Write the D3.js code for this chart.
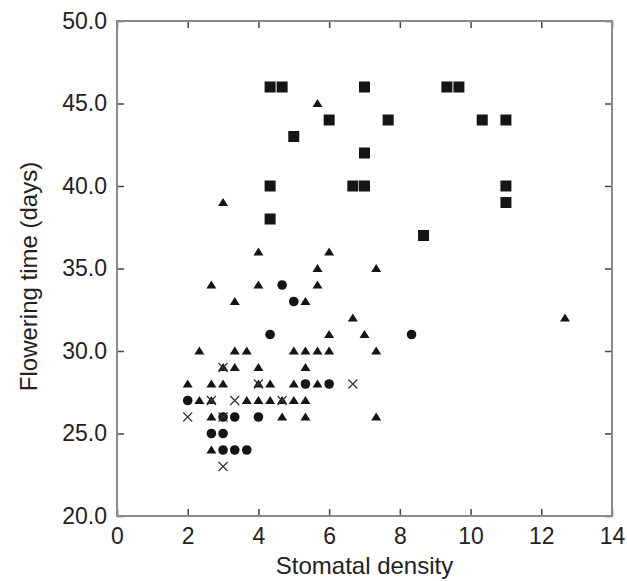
<!DOCTYPE html>
<html>
<head>
<meta charset="utf-8">
<script src="https://cdn.jsdelivr.net/npm/d3@7"></script>
<style>
  body { margin: 0; background: #fff; }
  svg { display: block; font-family: 'Liberation Sans', Arial, sans-serif; }
</style>
</head>
<body>
<svg></svg>
<script>
const HEIGHT = 581;
const WIDTH = 627;
const MARGINS = { left: 117, top: 21, right: 15, bottom: 65 };
const graphWidth = WIDTH - MARGINS.left - MARGINS.right;
const graphHeight = HEIGHT - MARGINS.top - MARGINS.bottom;

// data: [stomatal density, flowering time]
const squares = [
  [4.33, 46], [4.67, 46], [7, 46], [9.33, 46], [9.67, 46],
  [6, 44], [7.67, 44], [10.33, 44], [11, 44],
  [5, 43], [7, 42],
  [4.33, 40], [6.67, 40], [7, 40], [11, 40],
  [11, 39], [4.33, 38], [8.67, 37]
];
const triangles = [
  [5.67, 45], [3, 39], [4, 36], [6, 36], [5.67, 35], [7.33, 35],
  [2.67, 34], [4, 34], [5.67, 34], [3.33, 33], [5.33, 33],
  [6.67, 32], [12.67, 32], [6, 31], [7, 31],
  [2.33, 30], [3.33, 30], [3.67, 30], [5, 30], [5.33, 30], [5.67, 30], [6, 30], [7.33, 30],
  [3, 29], [3.33, 29], [4, 29], [5.33, 29],
  [2, 28], [2.67, 28], [3, 28], [4, 28], [4.33, 28], [5, 28], [5.67, 28],
  [2.33, 27], [2.67, 27], [3.67, 27], [4, 27], [4.33, 27], [4.67, 27], [5, 27], [5.33, 27],
  [2.67, 26], [4.67, 26], [5.33, 26], [7.33, 26],
  [2.67, 24]
];
const circles = [
  [4.67, 34], [5, 33], [4.33, 31], [8.33, 31],
  [5.33, 28], [6, 28], [2, 27],
  [3, 26], [3.33, 26], [4, 26],
  [2.67, 25], [3, 25],
  [3, 24], [3.33, 24], [3.67, 24]
];
const crosses = [
  [3, 29], [4, 28], [6.67, 28], [2.67, 27], [3.33, 27], [4.67, 27],
  [2, 26], [3, 26], [3, 23]
];
const xTicks = [0, 2, 4, 6, 8, 10, 12, 14];
const yTicks = [20, 25, 30, 35, 40, 45, 50];

const svg = d3.select('svg').attr('height', HEIGHT).attr('width', WIDTH);

const graph = svg
  .append('g')
  .attr('transform', `translate(${MARGINS.left}, ${MARGINS.top})`);

const x = d3.scaleLinear().domain([0, 14]).range([0, graphWidth]);
const y = d3.scaleLinear().domain([20, 50]).range([graphHeight, 0]);

// ticks point inward on all four sides
const styleAxis = (g) => {
  g.select('.domain').remove();
  g.selectAll('.tick line').attr('stroke', '#444').attr('stroke-width', 1.5);
  g.selectAll('.tick text')
    .attr('fill', '#222')
    .style('font-size', '23px');
};

graph.append('g')
  .attr('transform', `translate(0, ${graphHeight})`)
  .call(d3.axisBottom(x).tickValues(xTicks).tickSizeInner(-7).tickSizeOuter(0).tickPadding(12))
  .call(styleAxis);
graph.append('g')
  .call(d3.axisTop(x).tickValues(xTicks).tickSizeInner(-7).tickSizeOuter(0).tickFormat(''))
  .call(styleAxis);
graph.append('g')
  .call(d3.axisLeft(y).tickValues(yTicks).tickSizeInner(-7).tickSizeOuter(0).tickPadding(10).tickFormat(d3.format('.1f')))
  .call(styleAxis);
graph.append('g')
  .attr('transform', `translate(${graphWidth}, 0)`)
  .call(d3.axisRight(y).tickValues(yTicks).tickSizeInner(-7).tickSizeOuter(0).tickFormat(''))
  .call(styleAxis);

graph.append('rect')
  .attr('width', graphWidth)
  .attr('height', graphHeight)
  .attr('fill', 'none')
  .attr('stroke', '#8a8a8a')
  .attr('stroke-width', 2);

const INK = '#151515';

graph.selectAll('rect.sq')
  .data(squares)
  .enter()
  .append('rect')
  .attr('class', 'sq')
  .attr('x', (d) => x(d[0]) - 5.5)
  .attr('y', (d) => y(d[1]) - 5.5)
  .attr('width', 11)
  .attr('height', 11)
  .attr('fill', INK);

graph.selectAll('path.tri')
  .data(triangles)
  .enter()
  .append('path')
  .attr('class', 'tri')
  .attr('d', (d) => {
    const cx = x(d[0]);
    const cy = y(d[1]);
    return `M${cx},${cy - 4.5}L${cx + 5},${cy + 3.5}L${cx - 5},${cy + 3.5}Z`;
  })
  .attr('fill', INK);

graph.selectAll('circle')
  .data(circles)
  .enter()
  .append('circle')
  .attr('cx', (d) => x(d[0]))
  .attr('cy', (d) => y(d[1]))
  .attr('r', 4.8)
  .attr('fill', INK);

graph.selectAll('path.cross')
  .data(crosses)
  .enter()
  .append('path')
  .attr('class', 'cross')
  .attr('d', (d) => {
    const cx = x(d[0]);
    const cy = y(d[1]);
    return `M${cx - 4.5},${cy - 4.5}L${cx + 4.5},${cy + 4.5}M${cx + 4.5},${cy - 4.5}L${cx - 4.5},${cy + 4.5}`;
  })
  .attr('stroke', '#333')
  .attr('stroke-width', 1.2)
  .attr('fill', 'none');

svg.append('text')
  .attr('x', MARGINS.left + graphWidth / 2)
  .attr('y', 574)
  .attr('text-anchor', 'middle')
  .attr('fill', '#222')
  .style('font-size', '24px')
  .text('Stomatal density');

svg.append('text')
  .attr('transform', `translate(37, ${MARGINS.top + graphHeight / 2 + 8}) rotate(-90)`)
  .attr('text-anchor', 'middle')
  .attr('fill', '#222')
  .style('font-size', '24px')
  .text('Flowering time (days)');
</script>
</body>
</html>
